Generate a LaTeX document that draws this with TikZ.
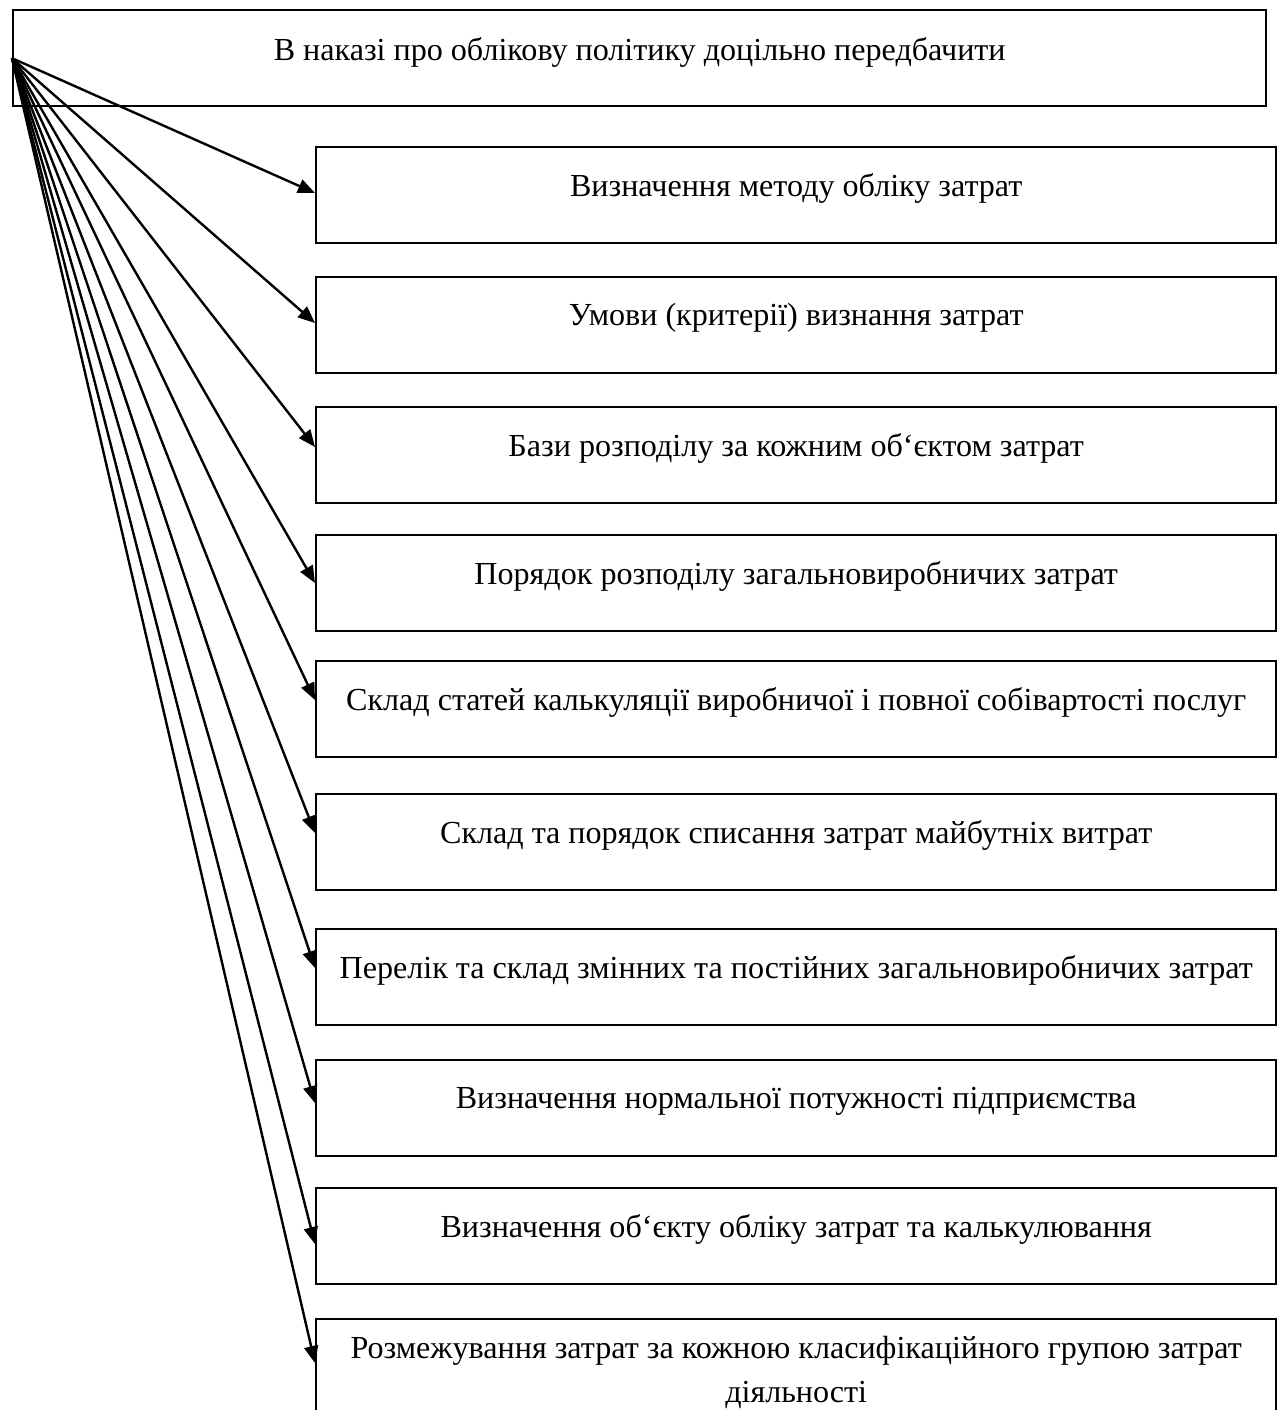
\documentclass[tikz,border=0pt]{standalone}
\usepackage{fontspec}
\setmainfont{Liberation Serif}
\usetikzlibrary{arrows.meta,calc}
\begin{document}
\begin{tikzpicture}[x=1pt,y=-1pt,
  box/.style={draw=black,line width=2.4pt,rectangle,anchor=north west,minimum width=960pt,minimum height=96pt,inner sep=0pt},
  lbl/.style={font=\fontsize{32.1}{44}\selectfont,align=center,inner sep=0pt},
  arr/.style={draw=black,line width=2.4pt,-{Triangle[length=17pt,width=14pt]}}]
\useasboundingbox (0,0) rectangle (1278,1410);
\clip (0,0) rectangle (1278,1410);
\node[box,minimum width=1253pt] (top) at (12,9) {};
\node[lbl] (ttop) at ($(top.center)+(0,-6)$) {В наказі про облікову політику доцільно передбачити};
\node[box] (b1) at (315,146) {};
\node[box] (b2) at (315,276) {};
\node[box] (b3) at (315,406) {};
\node[box] (b4) at (315,534) {};
\node[box] (b5) at (315,660) {};
\node[box] (b6) at (315,793) {};
\node[box] (b7) at (315,928) {};
\node[box] (b8) at (315,1059) {};
\node[box] (b9) at (315,1187) {};
\node[box,minimum height=140pt] (b10) at (315,1318) {};
\node[lbl] (t1) at ($(b1.north)+(0,42)$) {Визначення методу обліку затрат};
\node[lbl] (t2) at ($(b2.north)+(0,42)$) {Умови (критерії) визнання затрат};
\node[lbl] (t3) at ($(b3.north)+(0,42)$) {Бази розподілу за кожним об‘єктом затрат};
\node[lbl] (t4) at ($(b4.north)+(0,42)$) {Порядок розподілу загальновиробничих затрат};
\node[lbl] (t5) at ($(b5.north)+(0,42)$) {Склад статей калькуляції виробничої і повної собівартості послуг};
\node[lbl] (t6) at ($(b6.north)+(0,42)$) {Склад та порядок списання затрат майбутніх витрат};
\node[lbl] (t7) at ($(b7.north)+(0,42)$) {Перелік та склад змінних та постійних загальновиробничих затрат};
\node[lbl] (t8) at ($(b8.north)+(0,42)$) {Визначення нормальної потужності підприємства};
\node[lbl] (t9) at ($(b9.north)+(0,42)$) {Визначення об‘єкту обліку затрат та калькулювання};
\node[lbl,anchor=north] (t10) at ($(b10.north)+(0,18)$) {Розмежування затрат за кожною класифікаційного групою затрат\\діяльності};
\coordinate (src) at (top.west);
\draw[arr] (src) -- ($(b1.north west)+(0,47)$);
\draw[arr] (src) -- ($(b2.north west)+(0,47)$);
\draw[arr] (src) -- ($(b3.north west)+(0,41)$);
\draw[arr] (src) -- ($(b4.north west)+(0,49)$);
\draw[arr] (src) -- ($(b5.north west)+(0,40)$);
\draw[arr] (src) -- ($(b6.north west)+(0,40)$);
\draw[arr] (src) -- ($(b7.north west)+(0,40)$);
\draw[arr] (src) -- ($(b8.north west)+(0,44)$);
\draw[arr] (src) -- ($(b9.north west)+(0,57)$);
\draw[arr] (src) -- ($(b10.north west)+(0,45)$);
\end{tikzpicture}
\end{document}
